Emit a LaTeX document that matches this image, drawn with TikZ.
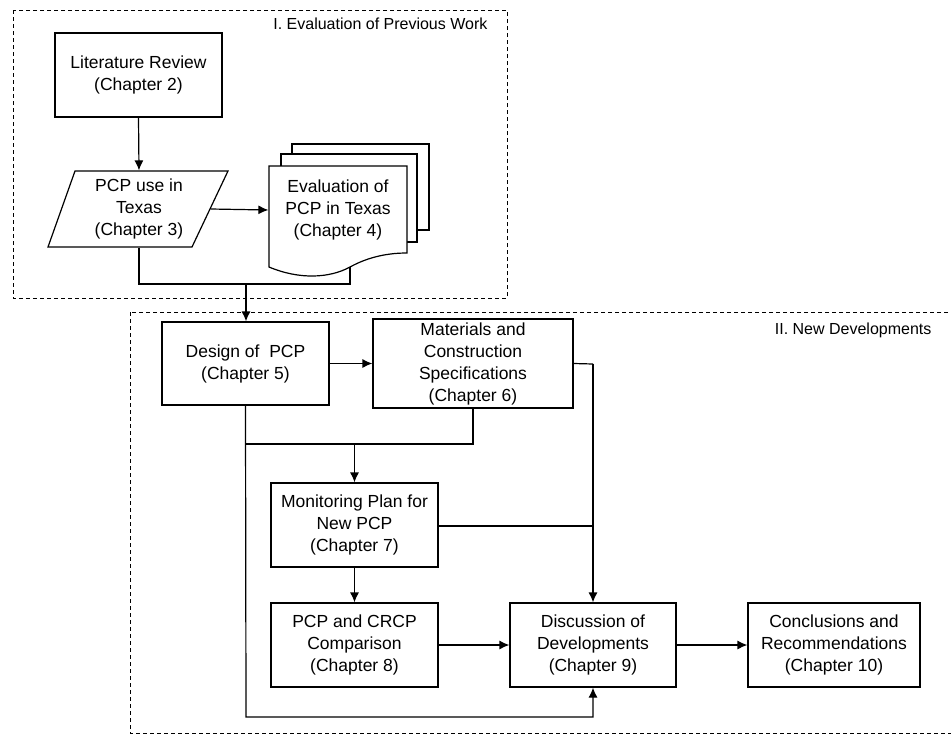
\documentclass[tikz,border=0pt]{standalone}
\usepackage{fontspec}
\setmainfont{Liberation Sans}
\usetikzlibrary{arrows.meta}
\begin{document}
\begin{tikzpicture}[x=1pt,y=-1pt,
  line width=1.2pt,
  txt/.style={font=\fontsize{17.5}{22}\selectfont, align=center, inner sep=0pt},
  box/.style={txt, draw, rectangle},
  ttl/.style={font=\fontsize{16}{19}\selectfont, inner sep=0pt, anchor=east},
  grp/.style={draw, dash pattern=on 4pt off 3pt, line width=1pt},
  arr/.style={-{Latex[length=10pt,width=9pt]}},
  ln/.style={-}
]
\useasboundingbox (0,0) rectangle (951,734);
% group frames
\draw[grp] (13,10) rectangle (507,298);
\draw[grp] (130,312) rectangle (965,733);
\node[ttl] (t1) at (488,24) {I. Evaluation of Previous Work};
\node[ttl] (t2) at (932,330) {II. New Developments};

% top part
\node[box, minimum width=167pt, minimum height=84pt] (lit) at (138.5,75) {Literature Review\\(Chapter 2)};
\draw (75,171) -- (228,171) -- (192,247) -- (48,247) -- cycle;
\node[txt, minimum width=142pt, minimum height=76pt] (par) at (139,209) {PCP use in\\Texas\\(Chapter 3)};

% document stack
\draw[fill=white] (292,144) -- (429,144) -- (429,230) -- (292,230) -- cycle;
\draw[fill=white] (281,154) -- (417,154) -- (417,242) -- (281,242) -- cycle;
\draw[fill=white] (269,166) -- (407,166) -- (407,253)
   .. controls (390,253) and (370,256) .. (350,267)
   .. controls (330,278) and (300,280) .. (269,267) -- cycle;
\node[txt, minimum width=138pt, minimum height=80pt] (doc) at (338,210) {Evaluation of\\PCP in Texas\\(Chapter 4)};
\coordinate (docb) at (350,267);
\coordinate (j1) at (246,284);

\draw[arr] (lit.south) -- (par.north);
\draw[arr] (par.east) -- (doc.west);
\draw[ln] (par.south) |- (j1) -| (docb);

% lower part
\node[box, minimum width=167pt, minimum height=83pt] (des) at (245.5,363.5) {Design of~ PCP\\(Chapter 5)};
\node[box, minimum width=200pt, minimum height=89pt] (mat) at (473,363.5) {Materials and\\Construction\\Specifications\\(Chapter 6)};
\node[box, minimum width=167pt, minimum height=84pt] (mon) at (354.5,525) {Monitoring Plan for\\New PCP\\(Chapter 7)};
\node[box, minimum width=167pt, minimum height=84pt] (pcp) at (354.5,645) {PCP and CRCP\\Comparison\\(Chapter 8)};
\node[box, minimum width=166pt, minimum height=84pt] (dis) at (593,645) {Discussion of\\Developments\\(Chapter 9)};
\node[box, minimum width=172pt, minimum height=84pt] (con) at (834,645) {Conclusions and\\Recommendations\\(Chapter 10)};

\coordinate (j2) at (354.5,444);
\coordinate (k1) at (593,364);
\coordinate (k2) at (593,526);
\coordinate (b1) at (246,717);

\draw[arr] (j1) -- (des.north -| j1);
\draw[arr] (des.east) -- (mat.west);
\draw[ln] (mat.south) |- (j2) -- (des.south |- j2);
\draw[ln] (des.south) -- (des.south |- j2);
\draw[arr] (j2) -- (mon.north);
\draw[ln] (mat.east) -- (k1);
\draw[arr] (k1) -- (dis.north);
\draw[ln] (mon.east |- k2) -- (k2);
\draw[arr] (mon.south) -- (pcp.north);
\draw[arr] (pcp.east) -- (dis.west);
\draw[arr] (dis.east) -- (con.west);
\draw[arr] (des.south) -- (b1) -| (dis.south);
\end{tikzpicture}
\end{document}
